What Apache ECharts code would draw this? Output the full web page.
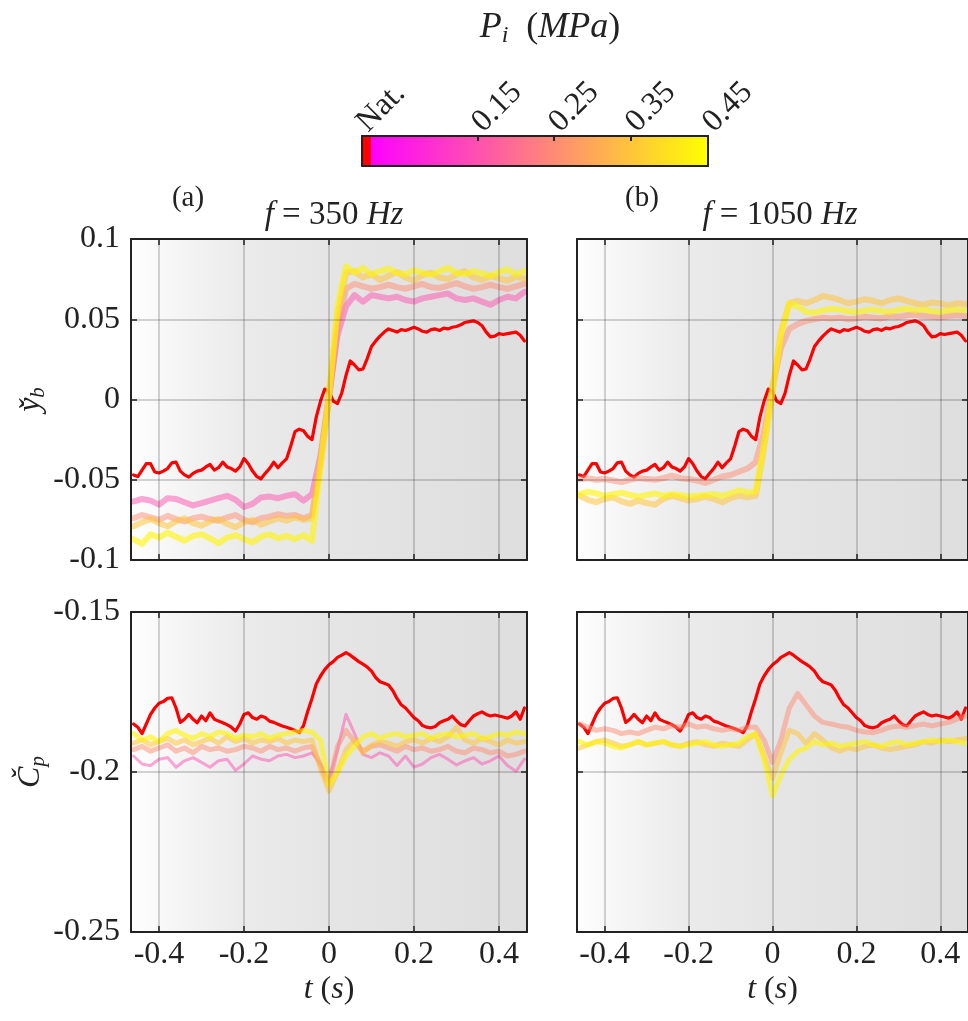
<!DOCTYPE html>
<html><head><meta charset="utf-8">
<script src="https://cdn.jsdelivr.net/npm/echarts@6/dist/echarts.min.js"></script>
<style>html,body{margin:0;padding:0;background:#fff}#c{width:968px;height:1021px}</style>
</head><body><div id="c"></div>
<script>
// ---------------- data ----------------
const tFine = [-0.46,-0.45,-0.44,-0.43,-0.42,-0.41,-0.40,-0.39,-0.38,-0.37,-0.36,-0.35,-0.34,-0.33,-0.32,-0.31,-0.30,-0.29,-0.28,-0.27,-0.26,-0.25,-0.24,-0.23,-0.22,-0.21,-0.20,-0.19,-0.18,-0.17,-0.16,-0.15,-0.14,-0.13,-0.12,-0.11,-0.10,-0.09,-0.08,-0.07,-0.06,-0.05,-0.04,-0.03,-0.02,-0.01,0.00,0.01,0.02,0.03,0.04,0.05,0.06,0.07,0.08,0.09,0.10,0.11,0.12,0.13,0.14,0.15,0.16,0.17,0.18,0.19,0.20,0.21,0.22,0.23,0.24,0.25,0.26,0.27,0.28,0.29,0.30,0.31,0.32,0.33,0.34,0.35,0.36,0.37,0.38,0.39,0.40,0.41,0.42,0.43,0.44,0.45,0.46];
const tCoarse = [-0.46,-0.44,-0.42,-0.40,-0.38,-0.36,-0.34,-0.32,-0.30,-0.28,-0.26,-0.24,-0.22,-0.20,-0.18,-0.16,-0.14,-0.12,-0.10,-0.08,-0.06,-0.04,-0.02,0.00,0.02,0.04,0.06,0.08,0.10,0.12,0.14,0.16,0.18,0.20,0.22,0.24,0.26,0.28,0.30,0.32,0.34,0.36,0.38,0.40,0.42,0.44,0.46];

const pressureLabels = ['Nat.', '0.15', '0.25', '0.35', '0.45'];
const xTicks = [-0.4, -0.2, 0, 0.2, 0.4];
const cbLabelValues = [0, 0.15, 0.25, 0.35, 0.45];
const cbTickValues = [0.15, 0.25, 0.35];
const cbSegments = [[0, 0.0118], [0.0118, 0.45]];

// natural (unforced) case, same in both columns
const ybNat = [-0.0470,-0.0480,-0.0440,-0.0400,-0.0400,-0.0452,-0.0458,-0.0446,-0.0430,-0.0395,
-0.0390,-0.0446,-0.0470,-0.0484,-0.0460,-0.0446,-0.0440,-0.0420,-0.0405,-0.0440,
-0.0425,-0.0390,-0.0420,-0.0430,-0.0446,-0.0420,-0.0368,-0.0400,-0.0446,-0.0480,
-0.0494,-0.0460,-0.0430,-0.0390,-0.0425,-0.0395,-0.0370,-0.0290,-0.0200,-0.0185,
-0.0195,-0.0230,-0.0250,-0.0110,-0.0010,0.0065,0.0050,-0.0010,-0.0025,0.0040,
0.0150,0.0240,0.0215,0.0185,0.0190,0.0255,0.0330,0.0365,0.0395,0.0420,
0.0440,0.0430,0.0420,0.0435,0.0430,0.0440,0.0450,0.0440,0.0425,0.0420,
0.0435,0.0440,0.0430,0.0445,0.0440,0.0450,0.0455,0.0465,0.0480,0.0485,
0.0490,0.0480,0.0460,0.0420,0.0390,0.0395,0.0410,0.0405,0.0410,0.0415,
0.0420,0.0400,0.0365];
const cpNat = [-0.1850,-0.1860,-0.1880,-0.1850,-0.1820,-0.1800,-0.1785,-0.1780,-0.1770,-0.1768,
-0.1800,-0.1845,-0.1835,-0.1820,-0.1835,-0.1846,-0.1825,-0.1840,-0.1815,-0.1835,
-0.1841,-0.1846,-0.1852,-0.1860,-0.1872,-0.1850,-0.1820,-0.1815,-0.1830,-0.1835,
-0.1825,-0.1830,-0.1841,-0.1845,-0.1851,-0.1856,-0.1860,-0.1865,-0.1870,-0.1877,
-0.1855,-0.1810,-0.1770,-0.1725,-0.1700,-0.1680,-0.1665,-0.1655,-0.1642,-0.1635,
-0.1627,-0.1635,-0.1645,-0.1655,-0.1663,-0.1672,-0.1685,-0.1705,-0.1718,-0.1723,
-0.1728,-0.1745,-0.1770,-0.1790,-0.1800,-0.1815,-0.1830,-0.1840,-0.1855,-0.1860,
-0.1862,-0.1858,-0.1846,-0.1840,-0.1835,-0.1825,-0.1840,-0.1852,-0.1856,-0.1840,
-0.1825,-0.1818,-0.1812,-0.1820,-0.1825,-0.1822,-0.1825,-0.1828,-0.1832,-0.1825,
-0.1812,-0.1835,-0.1800];

// f = 350 Hz, base position
const yb350_015 = [-0.0635,-0.0620,-0.0630,-0.0655,-0.0615,-0.0620,-0.0640,-0.0660,-0.0645,-0.0630,-0.0615,-0.0600,-0.0625,-0.0670,-0.0650,-0.0610,-0.0605,-0.0615,-0.0600,-0.0590,-0.0630,-0.0590,-0.0350,0.0020,0.0400,0.0580,0.0650,0.0610,0.0650,0.0640,0.0630,0.0640,0.0620,0.0610,0.0630,0.0640,0.0650,0.0660,0.0630,0.0620,0.0630,0.0610,0.0590,0.0620,0.0640,0.0630,0.0670];
const yb350_025 = [-0.0740,-0.0720,-0.0735,-0.0750,-0.0725,-0.0745,-0.0760,-0.0740,-0.0730,-0.0745,-0.0755,-0.0735,-0.0720,-0.0750,-0.0765,-0.0740,-0.0730,-0.0715,-0.0725,-0.0720,-0.0740,-0.0720,-0.0400,0.0000,0.0450,0.0690,0.0720,0.0705,0.0690,0.0700,0.0715,0.0700,0.0690,0.0705,0.0720,0.0700,0.0695,0.0710,0.0725,0.0705,0.0690,0.0700,0.0715,0.0700,0.0690,0.0705,0.0720];
const yb350_035 = [-0.0790,-0.0765,-0.0745,-0.0770,-0.0790,-0.0760,-0.0740,-0.0770,-0.0785,-0.0760,-0.0745,-0.0775,-0.0795,-0.0765,-0.0750,-0.0780,-0.0760,-0.0740,-0.0755,-0.0735,-0.0750,-0.0740,-0.0380,0.0050,0.0520,0.0790,0.0800,0.0760,0.0780,0.0745,0.0770,0.0795,0.0760,0.0740,0.0775,0.0790,0.0760,0.0750,0.0780,0.0800,0.0760,0.0745,0.0770,0.0755,0.0740,0.0765,0.0750];
const yb350_045 = [-0.0870,-0.0900,-0.0840,-0.0860,-0.0830,-0.0855,-0.0880,-0.0850,-0.0840,-0.0865,-0.0895,-0.0860,-0.0845,-0.0870,-0.0890,-0.0855,-0.0840,-0.0865,-0.0850,-0.0870,-0.0845,-0.0880,-0.0420,0.0020,0.0580,0.0830,0.0790,0.0820,0.0780,0.0800,0.0815,0.0790,0.0780,0.0805,0.0790,0.0775,0.0800,0.0820,0.0790,0.0780,0.0800,0.0785,0.0770,0.0795,0.0810,0.0780,0.0800];

// f = 1050 Hz, base position
const yb1050_025 = [-0.0495,-0.0490,-0.0500,-0.0495,-0.0505,-0.0515,-0.0500,-0.0490,-0.0495,-0.0500,-0.0490,-0.0475,-0.0490,-0.0495,-0.0505,-0.0520,-0.0500,-0.0480,-0.0470,-0.0450,-0.0430,-0.0390,-0.0200,0.0080,0.0320,0.0440,0.0470,0.0490,0.0500,0.0510,0.0505,0.0510,0.0500,0.0505,0.0515,0.0510,0.0505,0.0520,0.0515,0.0525,0.0530,0.0520,0.0515,0.0510,0.0520,0.0525,0.0520];
const yb1050_035 = [-0.0600,-0.0625,-0.0640,-0.0620,-0.0610,-0.0635,-0.0650,-0.0630,-0.0645,-0.0655,-0.0620,-0.0600,-0.0615,-0.0630,-0.0620,-0.0605,-0.0620,-0.0640,-0.0615,-0.0600,-0.0610,-0.0600,-0.0300,0.0050,0.0420,0.0600,0.0615,0.0600,0.0620,0.0645,0.0635,0.0620,0.0600,0.0610,0.0625,0.0615,0.0600,0.0620,0.0630,0.0615,0.0600,0.0590,0.0605,0.0600,0.0585,0.0600,0.0595];
const yb1050_045 = [-0.0590,-0.0575,-0.0585,-0.0600,-0.0590,-0.0580,-0.0595,-0.0605,-0.0595,-0.0585,-0.0600,-0.0590,-0.0595,-0.0605,-0.0600,-0.0595,-0.0590,-0.0600,-0.0585,-0.0565,-0.0580,-0.0575,-0.0280,0.0060,0.0400,0.0600,0.0580,0.0545,0.0540,0.0555,0.0565,0.0560,0.0550,0.0545,0.0555,0.0560,0.0550,0.0545,0.0560,0.0565,0.0555,0.0560,0.0550,0.0545,0.0555,0.0560,0.0555];

// f = 350 Hz, pressure coefficient
const cp350_015 = [-0.1950,-0.1975,-0.1980,-0.1960,-0.1955,-0.1985,-0.1965,-0.1955,-0.1970,-0.1985,-0.1965,-0.1960,-0.1995,-0.1975,-0.1950,-0.1960,-0.1965,-0.1950,-0.1945,-0.1955,-0.1950,-0.1940,-0.1975,-0.2025,-0.1930,-0.1820,-0.1880,-0.1945,-0.1955,-0.1940,-0.1950,-0.1980,-0.1950,-0.1985,-0.1975,-0.1955,-0.1945,-0.1960,-0.1978,-0.1965,-0.1955,-0.1975,-0.1965,-0.1950,-0.1980,-0.1998,-0.1960];
const cp350_025 = [-0.1930,-0.1920,-0.1935,-0.1925,-0.1915,-0.1935,-0.1925,-0.1940,-0.1920,-0.1930,-0.1925,-0.1935,-0.1930,-0.1920,-0.1925,-0.1935,-0.1920,-0.1930,-0.1925,-0.1935,-0.1925,-0.1920,-0.1980,-0.2040,-0.1920,-0.1870,-0.1905,-0.1935,-0.1920,-0.1915,-0.1925,-0.1935,-0.1920,-0.1930,-0.1925,-0.1935,-0.1930,-0.1920,-0.1935,-0.1940,-0.1925,-0.1930,-0.1940,-0.1935,-0.1950,-0.1945,-0.1935];
const cp350_035 = [-0.1910,-0.1900,-0.1915,-0.1905,-0.1895,-0.1910,-0.1900,-0.1915,-0.1905,-0.1895,-0.1910,-0.1890,-0.1905,-0.1895,-0.1910,-0.1900,-0.1905,-0.1895,-0.1910,-0.1900,-0.1905,-0.1900,-0.1990,-0.2060,-0.2000,-0.1930,-0.1900,-0.1940,-0.1915,-0.1905,-0.1910,-0.1920,-0.1905,-0.1900,-0.1910,-0.1895,-0.1905,-0.1890,-0.1860,-0.1900,-0.1910,-0.1895,-0.1905,-0.1915,-0.1900,-0.1910,-0.1905];
const cp350_045 = [-0.1880,-0.1900,-0.1890,-0.1905,-0.1880,-0.1870,-0.1885,-0.1895,-0.1880,-0.1890,-0.1875,-0.1880,-0.1895,-0.1885,-0.1890,-0.1880,-0.1895,-0.1885,-0.1880,-0.1875,-0.1870,-0.1875,-0.1900,-0.2040,-0.2000,-0.1950,-0.1920,-0.1890,-0.1880,-0.1895,-0.1885,-0.1880,-0.1890,-0.1885,-0.1880,-0.1895,-0.1885,-0.1880,-0.1890,-0.1885,-0.1880,-0.1895,-0.1890,-0.1880,-0.1885,-0.1875,-0.1880];

// f = 1050 Hz, pressure coefficient
const cp1050_025 = [-0.1850,-0.1860,-0.1870,-0.1865,-0.1870,-0.1880,-0.1875,-0.1880,-0.1870,-0.1860,-0.1865,-0.1855,-0.1860,-0.1850,-0.1860,-0.1856,-0.1865,-0.1870,-0.1865,-0.1870,-0.1860,-0.1860,-0.1900,-0.1970,-0.1900,-0.1800,-0.1755,-0.1790,-0.1825,-0.1845,-0.1850,-0.1856,-0.1860,-0.1870,-0.1875,-0.1877,-0.1870,-0.1860,-0.1856,-0.1860,-0.1855,-0.1850,-0.1856,-0.1850,-0.1845,-0.1835,-0.1825];
const cp1050_035 = [-0.1925,-0.1915,-0.1905,-0.1900,-0.1910,-0.1920,-0.1915,-0.1905,-0.1915,-0.1910,-0.1905,-0.1915,-0.1920,-0.1910,-0.1905,-0.1915,-0.1920,-0.1910,-0.1915,-0.1920,-0.1900,-0.1880,-0.1950,-0.2020,-0.1940,-0.1870,-0.1880,-0.1910,-0.1880,-0.1900,-0.1925,-0.1935,-0.1925,-0.1930,-0.1920,-0.1915,-0.1925,-0.1930,-0.1925,-0.1920,-0.1915,-0.1905,-0.1910,-0.1900,-0.1905,-0.1900,-0.1895];
const cp1050_045 = [-0.1905,-0.1915,-0.1905,-0.1910,-0.1920,-0.1925,-0.1915,-0.1905,-0.1915,-0.1910,-0.1905,-0.1915,-0.1920,-0.1915,-0.1910,-0.1905,-0.1915,-0.1920,-0.1915,-0.1910,-0.1890,-0.1880,-0.1960,-0.2075,-0.2010,-0.1960,-0.1935,-0.1925,-0.1905,-0.1915,-0.1910,-0.1920,-0.1915,-0.1910,-0.1905,-0.1915,-0.1920,-0.1910,-0.1905,-0.1915,-0.1910,-0.1905,-0.1900,-0.1905,-0.1900,-0.1905,-0.1910];

// ---------------- style ----------------
const SERIF = 'Liberation Serif';
const INK = '#222222';
const lineColors = {
  'Nat.': '#ff0000',
  '0.15': 'rgba(255,80,175,0.5)',
  '0.25': 'rgba(255,139,116,0.5)',
  '0.35': 'rgba(255,197,58,0.55)',
  '0.45': 'rgba(255,245,0,0.6)'
};
const bg = {type:'linear', x:0, y:0, x2:1, y2:0, colorStops:[
  {offset:0, color:'#fefefe'}, {offset:0.12, color:'#f5f5f5'}, {offset:0.28, color:'#ebebeb'},
  {offset:0.5, color:'#e5e5e5'}, {offset:1, color:'#dedede'}]};

const pair = (ts, vs) => ts.map((t, i) => [t, vs[i]]);

const panels = [
  {grid:{left:131, top:239, width:396, height:321}, yMin:-0.1, yMax:0.1, showX:false, showY:true,
   yName:'{i|y̌}{s|b}', lines:[['Nat.', tFine, ybNat],['0.15', tCoarse, yb350_015],['0.25', tCoarse, yb350_025],['0.35', tCoarse, yb350_035],['0.45', tCoarse, yb350_045]], w:6},
  {grid:{left:577, top:239, width:396, height:321}, yMin:-0.1, yMax:0.1, showX:false, showY:false,
   yName:'', lines:[['Nat.', tFine, ybNat],['0.25', tCoarse, yb1050_025],['0.35', tCoarse, yb1050_035],['0.45', tCoarse, yb1050_045]], w:6},
  {grid:{left:131, top:612, width:396, height:320}, yMin:-0.25, yMax:-0.15, showX:true, showY:true,
   yName:'{i|Č}{s|p}', lines:[['Nat.', tFine, cpNat],['0.15', tCoarse, cp350_015],['0.25', tCoarse, cp350_025],['0.35', tCoarse, cp350_035],['0.45', tCoarse, cp350_045]], w:5},
  {grid:{left:577, top:612, width:396, height:320}, yMin:-0.25, yMax:-0.15, showX:true, showY:false,
   yName:'', lines:[['Nat.', tFine, cpNat],['0.25', tCoarse, cp1050_025],['0.35', tCoarse, cp1050_035],['0.45', tCoarse, cp1050_045]], w:5}
];

const richMath = {
  i: {fontFamily: SERIF, fontStyle:'italic', fontWeight:'normal', fontSize:32, color:INK, lineHeight:36},
  s: {fontFamily: SERIF, fontStyle:'italic', fontWeight:'normal', fontSize:21, color:INK, lineHeight:36, verticalAlign:'bottom', padding:[14,0,0,0]},
  r: {fontFamily: SERIF, fontWeight:'normal', fontSize:32, color:INK, lineHeight:36}
};

const grids = [], xAxes = [], yAxes = [], series = [];
const frameLine = {show:true, onZero:false, lineStyle:{color:INK, width:2}};
const tickStyle = {color:INK, width:1.5};

panels.forEach((p, gi) => {
  grids.push(Object.assign({show:true, backgroundColor:bg, borderWidth:0}, p.grid));
  xAxes.push({gridIndex:gi, type:'value', min:-0.466, max:0.466, position:'bottom', z:5,
    axisLine:frameLine,
    axisTick:{show:true, inside:true, length:6, customValues:xTicks, lineStyle:tickStyle},
    axisLabel:{show:p.showX, customValues:xTicks, margin:7, fontFamily:SERIF, fontSize:32, color:INK},
    splitLine:{show:true, lineStyle:{color:'rgba(40,40,40,0.2)', width:2}},
    name:p.showX ? '{i|t}{r| (}{i|s}{r|)}' : '', nameLocation:'middle', nameGap:40,
    nameTextStyle:{rich:richMath}});
  xAxes.push({gridIndex:gi, type:'value', min:-0.466, max:0.466, position:'top', z:5,
    axisLine:frameLine,
    axisTick:{show:true, inside:true, length:6, customValues:xTicks, lineStyle:tickStyle},
    axisLabel:{show:false}, splitLine:{show:false}});
  yAxes.push({gridIndex:gi, type:'value', min:p.yMin, max:p.yMax, interval:0.05, position:'left', z:5,
    axisLine:frameLine,
    axisTick:{show:true, inside:true, length:6, lineStyle:tickStyle},
    axisLabel:{show:p.showY, margin:11, fontFamily:SERIF, fontSize:32, color:INK},
    splitLine:{show:true, lineStyle:{color:'rgba(40,40,40,0.2)', width:2}},
    name:p.yName, nameLocation:'middle', nameGap:82, nameRotate:90,
    nameTextStyle:{rich:richMath}});
  yAxes.push({gridIndex:gi, type:'value', min:p.yMin, max:p.yMax, interval:0.05, position:'right', z:5,
    axisLine:frameLine,
    axisTick:{show:true, inside:true, length:6, lineStyle:tickStyle},
    axisLabel:{show:false}, splitLine:{show:false}});
  p.lines.forEach(([name, ts, vs]) => {
    const nat = name === 'Nat.';
    series.push({type:'line', name, xAxisIndex:gi*2, yAxisIndex:gi*2, data:pair(ts, vs),
      showSymbol:false, symbol:'none', clip:true, silent:true,
      lineStyle:{color:lineColors[name], width: nat ? 3.2 : (p.w - (name === '0.15' && gi === 2 ? 2 : 0)), join:'round', cap:'round'}});
  });
});

// colour bar
const cbG = grids.length;
grids.push({left:362, top:136, width:346, height:30, show:false});
const cbX = xAxes.length, cbY = yAxes.length;
xAxes.push({gridIndex:cbG, type:'value', min:0, max:0.45, position:'top', z:5,
  axisLine:frameLine,
  axisTick:{show:true, inside:true, length:5, customValues:cbTickValues, lineStyle:{color:INK, width:2}},
  axisLabel:{show:true, customValues:cbLabelValues, rotate:-45, margin:9, fontFamily:SERIF, fontSize:32, color:INK,
    formatter: v => v === 0 ? pressureLabels[0] : v.toFixed(2)},
  splitLine:{show:false}});
xAxes.push({gridIndex:cbG, type:'value', min:0, max:0.45, position:'bottom', z:5,
  axisLine:frameLine, axisTick:{show:false}, axisLabel:{show:false}, splitLine:{show:false}});
yAxes.push({gridIndex:cbG, type:'value', min:0, max:1, position:'left', z:5,
  axisLine:frameLine, axisTick:{show:false}, axisLabel:{show:false}, splitLine:{show:false}});
yAxes.push({gridIndex:cbG, type:'value', min:0, max:1, position:'right', z:5,
  axisLine:frameLine, axisTick:{show:false}, axisLabel:{show:false}, splitLine:{show:false}});
const cbFills = ['#ff0000', {type:'linear', x:0, y:0, x2:1, y2:0, colorStops:[{offset:0, color:'#ff00ff'}, {offset:1, color:'#ffff00'}]}];
series.push({type:'custom', xAxisIndex:cbX, yAxisIndex:cbY, data:cbSegments, silent:true,
  renderItem:(params, api) => {
    const a = api.coord([api.value(0), 0]);
    const b = api.coord([api.value(1), 1]);
    return {type:'rect', shape:{x:a[0], y:b[1], width:b[0]-a[0], height:a[1]-b[1]},
      style:{fill:cbFills[params.dataIndex]}};
  }});

const mkRich = (fs, sub, lh) => ({
  i:{fontFamily:SERIF, fontStyle:'italic', fontWeight:'normal', fontSize:fs, color:INK, lineHeight:lh},
  r:{fontFamily:SERIF, fontWeight:'normal', fontSize:fs, color:INK, lineHeight:lh},
  s:{fontFamily:SERIF, fontStyle:'italic', fontWeight:'normal', fontSize:sub, color:INK, lineHeight:lh, verticalAlign:'bottom', padding:[14,0,0,0]}});
const titleStyle = {fontFamily:SERIF, fontWeight:'normal', fontSize:33, color:INK, rich:mkRich(33, 22, 38)};
const plainTitle = {fontFamily:SERIF, fontWeight:'normal', fontSize:29, color:INK};

const option = {
  animation:false,
  backgroundColor:'#ffffff',
  title:[
    {text:'{i|P}{s|i}{r|  (}{i|MPa}{r|)}', left:545, top:3, textAlign:'center',
     textStyle:{fontFamily:SERIF, fontWeight:'normal', fontSize:36, color:INK, rich:mkRich(36, 24, 40)}},
    {text:'(a)', left:183, top:179, textAlign:'center', textStyle:plainTitle},
    {text:'(b)', left:637, top:179, textAlign:'center', textStyle:plainTitle},
    {text:'{i|f}{r| = 350 }{i|Hz}', left:329, top:191, textAlign:'center', textStyle:titleStyle},
    {text:'{i|f}{r| = 1050 }{i|Hz}', left:775, top:191, textAlign:'center', textStyle:titleStyle}
  ],
  grid:grids, xAxis:xAxes, yAxis:yAxes, series
};
const chart = echarts.init(document.getElementById('c'), null, {renderer:'canvas'});
chart.setOption(option);
</script></body></html>
